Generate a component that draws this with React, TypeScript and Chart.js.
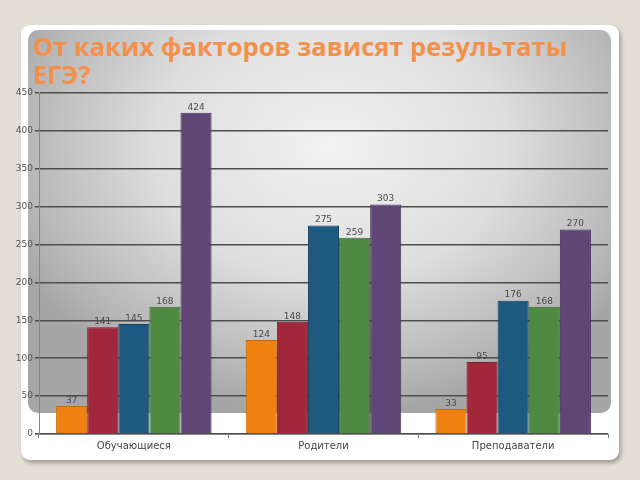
import React, { useEffect, useRef } from "react";
import { Chart, registerables } from "chart.js";

Chart.register(...registerables);

const categories = ["Обучающиеся", "Родители", "Преподаватели"];
const seriesA = [37, 124, 33];
const seriesB = [141, 148, 95];
const seriesC = [145, 275, 176];
const seriesD = [168, 259, 168];
const seriesE = [424, 303, 270];
const seriesColors = ["#ef820e", "#a2273a", "#1e5a7f", "#4f8a43", "#5f4677"];
const seriesBorders = ["#c86a08", "#7e1c2c", "#163f5c", "#3b6a32", "#45315a"];
const titleText = "От каких факторов зависят результаты ЕГЭ?";

const labelPlugin = {
  id: "barLabels",
  afterDatasetsDraw(chart: any) {
    const ctx = chart.ctx;
    ctx.save();
    ctx.font = "9px 'DejaVu Sans', Verdana, sans-serif";
    ctx.fillStyle = "#4a4a4a";
    ctx.textAlign = "center";
    ctx.textBaseline = "bottom";
    chart.data.datasets.forEach((ds: any, i: number) => {
      const meta = chart.getDatasetMeta(i);
      meta.data.forEach((el: any, j: number) => {
        ctx.fillText(String(ds.data[j]), el.x, el.y - 1);
      });
    });
    ctx.restore();
  },
};

export default function App() {
  const ref = useRef<HTMLCanvasElement>(null);
  useEffect(() => {
    const all = [seriesA, seriesB, seriesC, seriesD, seriesE];
    const chart = new Chart(ref.current!, {
      type: "bar",
      data: {
        labels: categories,
        datasets: all.map((d, i) => ({
          label: "s" + i,
          data: d,
          backgroundColor: seriesColors[i],
          borderColor: seriesBorders[i],
          borderWidth: 1,
          categoryPercentage: 0.82,
          barPercentage: 1,
        })),
      },
      options: {
        animation: false,
        responsive: false,
        maintainAspectRatio: false,
        layout: { padding: { left: 0, right: 32, top: 93, bottom: 0 } },
        plugins: { legend: { display: false }, title: { display: false }, tooltip: { enabled: false } },
        scales: {
          x: {
            afterFit: (s: any) => { s.height = 46; },
            grid: { display: true, drawOnChartArea: false, drawTicks: true, tickLength: 4, color: "#777", offset: true },
            border: { color: "#888", width: 1 },
            ticks: { color: "#444", font: { size: 10, family: "'DejaVu Sans', Verdana, sans-serif" }, padding: 2 },
          },
          y: {
            min: 0,
            max: 450,
            afterFit: (s: any) => { s.width = 39; },
            ticks: { stepSize: 50, color: "#555", font: { size: 9, family: "'DejaVu Sans', Verdana, sans-serif" }, padding: 2 },
            grid: { color: "#4e4e4e", lineWidth: 1.5, tickLength: 4 },
            border: { color: "#888", width: 1 },
          },
        },
      },
      plugins: [labelPlugin],
    });
    return () => chart.destroy();
  }, []);

  return (
    <div style={{ position: "fixed", left: 0, top: 0, width: 640, height: 480, background: "#e4dfd5", overflow: "hidden" }}>
      <div style={{ position: "absolute", left: 21, top: 25, width: 598, height: 435, background: "#ffffff", borderRadius: 9, boxShadow: "2px 3px 4px rgba(0,0,0,0.3)" }} />
      <div style={{ position: "absolute", left: 28, top: 30, width: 583, height: 383, borderRadius: 10, background: "radial-gradient(ellipse 60% 70% at 52% 30%, #f2f2f2 0%, #dedede 50%, #b4b4b4 90%, #a6a6a6 100%)" }} />
      <div style={{ position: "absolute", left: 33, top: 32, width: 570, fontFamily: "'Open Sans', sans-serif", fontWeight: 700, fontSize: 25.5, lineHeight: "28px", color: "#f3914c" }}>{titleText}</div>
      <canvas ref={ref} width={640} height={480} style={{ position: "absolute", left: 0, top: 0 }} />
    </div>
  );
}
